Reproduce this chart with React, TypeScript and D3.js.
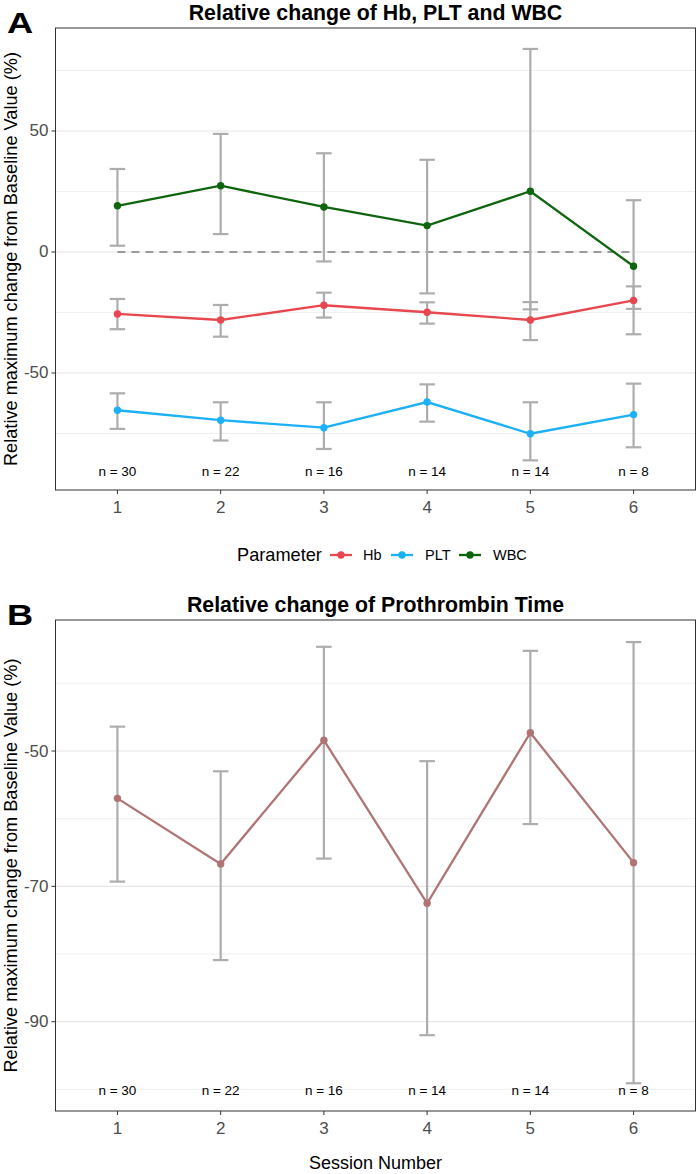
import React from "react";
import * as d3 from "d3";

const sessions = [1, 2, 3, 4, 5, 6];
const nLabels = ["n = 30", "n = 22", "n = 16", "n = 14", "n = 14", "n = 8"];

const hbMean = [-25.6, -28.1, -22.0, -24.9, -28.1, -20.0];
const hbLow = [-31.9, -35.0, -27.1, -29.6, -36.4, -34.0];
const hbHigh = [-19.4, -21.9, -16.8, -20.8, -20.7, -14.2];

const pltMean = [-65.4, -69.5, -72.6, -62.0, -75.1, -67.2];
const pltLow = [-73.1, -77.9, -81.4, -70.1, -86.1, -80.7];
const pltHigh = [-58.4, -62.1, -62.1, -54.7, -62.1, -54.4];

const wbcMean = [19.1, 27.4, 18.6, 10.9, 25.1, -5.9];
const wbcLow = [2.6, 7.4, -3.9, -17.1, -23.7, -23.5];
const wbcHigh = [34.3, 48.8, 40.8, 38.1, 83.9, 21.4];

const ptMean = [-57.0, -66.7, -48.4, -72.5, -47.3, -66.5];
const ptLow = [-69.3, -80.9, -65.9, -92.0, -60.8, -99.1];
const ptHigh = [-46.4, -53.0, -34.6, -51.5, -35.2, -33.9];

const yTicksA = [-50, 0, 50];
const yMinorA = [-75, -25, 25, 75];
const yTicksB = [-90, -70, -50];
const yMinorB = [-100, -80, -60, -40];

const seriesA = [
  { name: "Hb", color: "#E8474F", mean: hbMean, low: hbLow, high: hbHigh },
  { name: "PLT", color: "#1CB0F6", mean: pltMean, low: pltLow, high: pltHigh },
  { name: "WBC", color: "#0E650E", mean: wbcMean, low: wbcLow, high: wbcHigh },
];
const seriesB = [
  { name: "PT", color: "#B07474", mean: ptMean, low: ptLow, high: ptHigh },
];

const FONT = "'Liberation Sans', Arial, Helvetica, sans-serif";
const X0 = 55.5;
const X1 = 695.5;
const x = d3.scaleLinear().domain([0.4, 6.6]).range([X0, X1]);

type Series = { name: string; color: string; mean: number[]; low: number[]; high: number[] };

function Panel(props: {
  y0: number; y1: number; domain: [number, number]; ticks: number[]; minor: number[];
  series: Series[]; title: string; letter: string; letterY: number; titleY: number;
  nY: number; dashed: boolean;
}) {
  const { y0, y1, domain, ticks, minor, series, title, letter, letterY, titleY, nY, dashed } = props;
  const y = d3.scaleLinear().domain(domain).range([y1, y0]);
  const line = d3.line<number>().x((_, i) => x(sessions[i])).y((d) => y(d));
  const capW = 0.075;
  return (
    <g>
      <text
        transform={`translate(7,${letterY}) scale(1.25,1)`}
        fontFamily={FONT} fontWeight="bold" fontSize={29} fill="#000"
      >{letter}</text>
      <text x={(X0 + X1) / 2} y={titleY} textAnchor="middle" fontFamily={FONT}
        fontWeight="bold" fontSize={21.3} fill="#000">{title}</text>
      <rect x={X0} y={y0} width={X1 - X0} height={y1 - y0} fill="#fff" />
      {minor.map((v) => (
        <line key={"m" + v} x1={X0} x2={X1} y1={y(v)} y2={y(v)} stroke="#F0F0F0" strokeWidth={1} />
      ))}
      {ticks.map((v) => (
        <line key={"g" + v} x1={X0} x2={X1} y1={y(v)} y2={y(v)} stroke="#E6E6E6" strokeWidth={1.2} />
      ))}
      {dashed && (
        <line x1={x(1)} x2={x(6)} y1={y(0)} y2={y(0)} stroke="#9A9A9A" strokeWidth={2}
          strokeDasharray="8,6" />
      )}
      {series.map((s) => (
        <g key={"e" + s.name}>
          {sessions.map((sv, i) => (
            <g key={i} stroke="#ADADAD" strokeWidth={2.2}>
              <line x1={x(sv)} x2={x(sv)} y1={y(s.low[i])} y2={y(s.high[i])} />
              <line x1={x(sv - capW)} x2={x(sv + capW)} y1={y(s.low[i])} y2={y(s.low[i])} />
              <line x1={x(sv - capW)} x2={x(sv + capW)} y1={y(s.high[i])} y2={y(s.high[i])} />
            </g>
          ))}
        </g>
      ))}
      {series.map((s) => (
        <g key={"l" + s.name}>
          <path d={line(s.mean) || ""} fill="none" stroke={s.color} strokeWidth={2.3} />
          {s.mean.map((v, i) => (
            <circle key={i} cx={x(sessions[i])} cy={y(v)} r={3.7} fill={s.color} />
          ))}
        </g>
      ))}
      {nLabels.map((t, i) => (
        <text key={"n" + i} x={x(sessions[i])} y={y(nY)} textAnchor="middle"
          dominantBaseline="central" fontFamily={FONT} fontSize={13.5} fill="#000">{t}</text>
      ))}
      <rect x={X0} y={y0} width={X1 - X0} height={y1 - y0} fill="none" stroke="#333" strokeWidth={1} />
      {ticks.map((v) => (
        <g key={"t" + v}>
          <line x1={X0 - 4} x2={X0} y1={y(v)} y2={y(v)} stroke="#333" strokeWidth={1} />
          <text x={X0 - 7} y={y(v)} textAnchor="end" dominantBaseline="central"
            fontFamily={FONT} fontSize={17} fill="#4D4D4D">{v}</text>
        </g>
      ))}
      {sessions.map((sv) => (
        <g key={"x" + sv}>
          <line x1={x(sv)} x2={x(sv)} y1={y1} y2={y1 + 4} stroke="#333" strokeWidth={1} />
          <text x={x(sv)} y={y1 + 17} textAnchor="middle" dominantBaseline="central"
            fontFamily={FONT} fontSize={17} fill="#4D4D4D">{sv}</text>
        </g>
      ))}
      <text transform={`translate(17,${(y0 + y1) / 2}) rotate(-90)`} textAnchor="middle"
        fontFamily={FONT} fontSize={18.2} fill="#000">
        Relative maximum change from Baseline Value (%)
      </text>
    </g>
  );
}

const legendKeys = [
  { name: "Hb", color: "#E8474F", kx: 330, tx: 363 },
  { name: "PLT", color: "#1CB0F6", kx: 391, tx: 425 },
  { name: "WBC", color: "#0E650E", kx: 459, tx: 493 },
];

export default function App() {
  return (
    <svg width={700} height={1174} style={{ position: "absolute", left: 0, top: 0, background: "#fff" }}>
      <rect x={0} y={0} width={700} height={1174} fill="#fff" />
      <Panel y0={28} y1={490} domain={[-98.35, 92.56]} ticks={yTicksA} minor={yMinorA}
        series={seriesA} title="Relative change of Hb, PLT and WBC" letter="A" letterY={33}
        titleY={20} nY={-90.8} dashed={true} />
      <g>
        <text x={237} y={555} dominantBaseline="central" fontFamily={FONT} fontSize={18.2} fill="#000">
          Parameter
        </text>
        {legendKeys.map((k) => (
          <g key={k.name}>
            <line x1={k.kx} x2={k.kx + 22} y1={555} y2={555} stroke={k.color} strokeWidth={2.3} />
            <circle cx={k.kx + 11} cy={555} r={3.7} fill={k.color} />
            <text x={k.tx} y={555} dominantBaseline="central" fontFamily={FONT} fontSize={14.5} fill="#000">
              {k.name}
            </text>
          </g>
        ))}
      </g>
      <Panel y0={620} y1={1111} domain={[-103.2, -30.64]} ticks={yTicksB} minor={yMinorB}
        series={seriesB} title="Relative change of Prothrombin Time" letter="B" letterY={625}
        titleY={612} nY={-100.1} dashed={false} />
      <text x={(X0 + X1) / 2} y={1163} textAnchor="middle" dominantBaseline="central"
        fontFamily={FONT} fontSize={18} fill="#000">Session Number</text>
    </svg>
  );
}
